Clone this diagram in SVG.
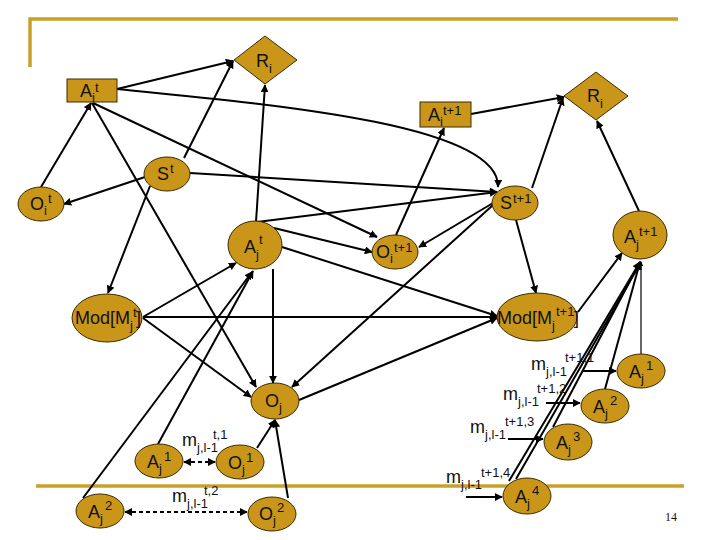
<svg xmlns="http://www.w3.org/2000/svg" width="720" height="540" viewBox="0 0 720 540">
<style>
.n{fill:#C9961A;stroke:#3a2a00;stroke-width:1}
.lb{font-family:"Liberation Sans",Arial,sans-serif;font-size:18px;fill:#111}
.s{font-size:13px}
.m{font-family:"Liberation Sans",Arial,sans-serif;font-size:18px;fill:#111}
.e{fill:none;stroke:#000;stroke-width:2;marker-end:url(#ah)}
.d{fill:none;stroke:#000;stroke-width:2;stroke-dasharray:4 3;marker-end:url(#ah);marker-start:url(#ah)}
.fr{stroke:#C8A02A;stroke-width:3.5;fill:none}
</style>
<defs>
<marker id="ah" viewBox="0 0 10 10" refX="9" refY="5" markerWidth="4" markerHeight="4" orient="auto-start-reverse"><path d="M0,0 L10,5 L0,10 z" fill="#000"/></marker>
</defs>
<rect width="720" height="540" fill="#fff"/>
<g id="frame">
<path class="fr" d="M30,67 L30,19 L678,19"/>
<path class="fr" d="M36,486 L684,486"/>
</g>
<g id="connectors">
<path class="e" d="M117,89 L233,61"/>
<path class="e" d="M184,158 L233,61"/>
<path class="e" d="M256,222 L265,85"/>
<path class="e" d="M117,89 C280,105 500,125 498,187"/>
<path class="e" d="M41,187 L91,103"/>
<path class="e" d="M145,177 L64,204"/>
<path class="e" d="M92,103 L256,387"/>
<path class="e" d="M93,103 L377,237"/>
<path class="e" d="M190,173 L497,192"/>
<path class="e" d="M257,222 L497,192"/>
<path class="e" d="M493,203 L419,247"/>
<path class="e" d="M493,205 L292,387"/>
<path class="e" d="M396,235 L444,128"/>
<path class="e" d="M471,114 L564,97"/>
<path class="e" d="M532,188 L563,98"/>
<path class="e" d="M639,211 L597,121"/>
<path class="e" d="M516,220 L536,293"/>
<path class="e" d="M578,312 L622,253"/>
<path class="e" d="M150,186 L108,293"/>
<path class="e" d="M143,317 L236,263"/>
<path class="e" d="M143,317 L497,317"/>
<path class="e" d="M143,318 L251,397"/>
<path class="e" d="M274,228 L372,252"/>
<path class="e" d="M282,247 L497,316"/>
<path class="e" d="M273,269 L273,383"/>
<path class="e" d="M299,400 L497,318"/>
<path class="e" d="M158,444 L253,271"/>
<path class="e" d="M83,498 L252,272"/>
<path class="e" d="M257,448 L275,420"/>
<path class="e" d="M288,498 L275,420"/>
<path class="e" style="stroke-width:1.2" d="M641,354 L641,262"/>
<path class="e" d="M605,389 L640,262"/>
<path class="e" d="M553,427 L640,262"/>
<path class="e" d="M509,481 L640,262"/>
<path class="e" d="M516,479 L641,262"/>
<path class="d" d="M184,462 L215,462"/>
<path class="d" d="M125,512 L247,512"/>
<path class="e" d="M582,371 L616,371"/>
<path class="e" d="M546,403 L580,403"/>
<path class="e" d="M508,439 L543,439"/>
<path class="e" d="M466,497 L502,497"/>
</g>
<g id="Ait"><rect class="n" x="67" y="79" width="50" height="23"/><text class="lb"><tspan x="80" y="97">A</tspan><tspan class="s" x="92" y="102">i</tspan><tspan class="s" x="95" y="92">t</tspan></text></g>
<g id="Ri1"><path class="n" d="M265,36 L297,60 L265,84 L234,60 z"/><text class="lb"><tspan x="256" y="67">R</tspan><tspan class="s" x="269" y="73">i</tspan></text></g>
<g id="Ri2"><path class="n" d="M596,72 L628,96 L596,120 L564,96 z"/><text class="lb"><tspan x="587" y="102">R</tspan><tspan class="s" x="600" y="108">i</tspan></text></g>
<g id="Ait1"><rect class="n" x="420" y="102" width="51" height="25"/><text class="lb"><tspan x="428" y="121">A</tspan><tspan class="s" x="440" y="126">i</tspan><tspan class="s" x="443" y="115">t+1</tspan></text></g>
<g id="St"><ellipse class="n" cx="167" cy="174" rx="23" ry="17"/><text class="lb"><tspan x="157" y="180">S</tspan><tspan class="s" x="170" y="173">t</tspan></text></g>
<g id="Oit"><ellipse class="n" cx="41" cy="204" rx="23" ry="17"/><text class="lb"><tspan x="30" y="210">O</tspan><tspan class="s" x="44" y="215">i</tspan><tspan class="s" x="48" y="203">t</tspan></text></g>
<g id="St1"><ellipse class="n" cx="515" cy="203" rx="23" ry="17"/><text class="lb"><tspan x="500" y="209">S</tspan><tspan class="s" x="513" y="203">t+1</tspan></text></g>
<g id="Oit1"><ellipse class="n" cx="395" cy="252" rx="23" ry="17"/><text class="lb"><tspan x="376" y="258">O</tspan><tspan class="s" x="390" y="263">i</tspan><tspan class="s" x="394" y="252">t+1</tspan></text></g>
<g id="Ajt1"><ellipse class="n" cx="640" cy="235" rx="27" ry="24"/><text class="lb"><tspan x="624" y="243">A</tspan><tspan class="s" x="636" y="249">j</tspan><tspan class="s" x="639" y="236">t+1</tspan></text></g>
<g id="Ajt"><ellipse class="n" cx="255" cy="245" rx="27" ry="24"/><text class="lb"><tspan x="244" y="253">A</tspan><tspan class="s" x="256" y="259">j</tspan><tspan class="s" x="259" y="244">t</tspan></text></g>
<g id="ModMjt"><ellipse class="n" cx="107" cy="318" rx="35" ry="24"/><text class="lb"><tspan x="75" y="324">Mod[M</tspan><tspan class="s" x="130" y="330">j</tspan><tspan class="s" x="133" y="317">t</tspan><tspan x="136" y="324">]</tspan></text></g>
<g id="ModMjt1"><ellipse class="n" cx="537" cy="317" rx="40" ry="24"/><text class="lb"><tspan x="497" y="324">Mod[M</tspan><tspan class="s" x="552" y="330">j</tspan><tspan class="s" x="556" y="316">t+1</tspan><tspan x="574" y="324">]</tspan></text></g>
<g id="Oj"><ellipse class="n" cx="275" cy="401" rx="24" ry="18"/><text class="lb"><tspan x="265" y="407">O</tspan><tspan class="s" x="279" y="412">j</tspan></text></g>
<g id="Aj1L"><ellipse class="n" cx="159" cy="461" rx="24" ry="17"/><text class="lb"><tspan x="147" y="468">A</tspan><tspan class="s" x="159" y="473">j</tspan><tspan class="s" x="164" y="461">1</tspan></text></g>
<g id="Oj1"><ellipse class="n" cx="240" cy="462" rx="24" ry="17"/><text class="lb"><tspan x="228" y="469">O</tspan><tspan class="s" x="242" y="474">j</tspan><tspan class="s" x="246" y="462">1</tspan></text></g>
<g id="Aj2L"><ellipse class="n" cx="100" cy="511" rx="24" ry="17"/><text class="lb"><tspan x="88" y="518">A</tspan><tspan class="s" x="100" y="523">j</tspan><tspan class="s" x="105" y="510">2</tspan></text></g>
<g id="Oj2"><ellipse class="n" cx="272" cy="514" rx="24" ry="17"/><text class="lb"><tspan x="259" y="520">O</tspan><tspan class="s" x="273" y="525">j</tspan><tspan class="s" x="277" y="512">2</tspan></text></g>
<g id="Aj1R"><ellipse class="n" cx="641" cy="371" rx="24" ry="17"/><text class="lb"><tspan x="629" y="378">A</tspan><tspan class="s" x="641" y="383">j</tspan><tspan class="s" x="646" y="370">1</tspan></text></g>
<g id="Aj2R"><ellipse class="n" cx="605" cy="406" rx="24" ry="17"/><text class="lb"><tspan x="593" y="413">A</tspan><tspan class="s" x="605" y="418">j</tspan><tspan class="s" x="610" y="405">2</tspan></text></g>
<g id="Aj3"><ellipse class="n" cx="568" cy="442" rx="24" ry="18"/><text class="lb"><tspan x="556" y="449">A</tspan><tspan class="s" x="568" y="454">j</tspan><tspan class="s" x="573" y="441">3</tspan></text></g>
<g id="Aj4"><ellipse class="n" cx="527" cy="496" rx="24" ry="18"/><text class="lb"><tspan x="515" y="503">A</tspan><tspan class="s" x="527" y="508">j</tspan><tspan class="s" x="532" y="495">4</tspan></text></g>
<g id="labels">
<text class="m"><tspan x="182" y="446">m</tspan><tspan class="s" x="197" y="452">j,l-1</tspan><tspan class="s" x="213" y="439">t,1</tspan></text>
<text class="m"><tspan x="172" y="502">m</tspan><tspan class="s" x="187" y="508">j,l-1</tspan><tspan class="s" x="204" y="495">t,2</tspan></text>
<text class="m"><tspan x="531" y="370">m</tspan><tspan class="s" x="546" y="376">j,l-1</tspan><tspan class="s" x="565" y="362">t+1,1</tspan></text>
<text class="m"><tspan x="503" y="400">m</tspan><tspan class="s" x="518" y="406">j,l-1</tspan><tspan class="s" x="537" y="393">t+1,2</tspan></text>
<text class="m"><tspan x="470" y="433">m</tspan><tspan class="s" x="485" y="439">j,l-1</tspan><tspan class="s" x="505" y="426">t+1,3</tspan></text>
<text class="m"><tspan x="446" y="483">m</tspan><tspan class="s" x="461" y="489">j,l-1</tspan><tspan class="s" x="481" y="477">t+1,4</tspan></text>
<text x="665" y="521" style="font-family:'Liberation Serif','Times New Roman',serif;font-size:12px;fill:#111">14</text>
</g>
</svg>
